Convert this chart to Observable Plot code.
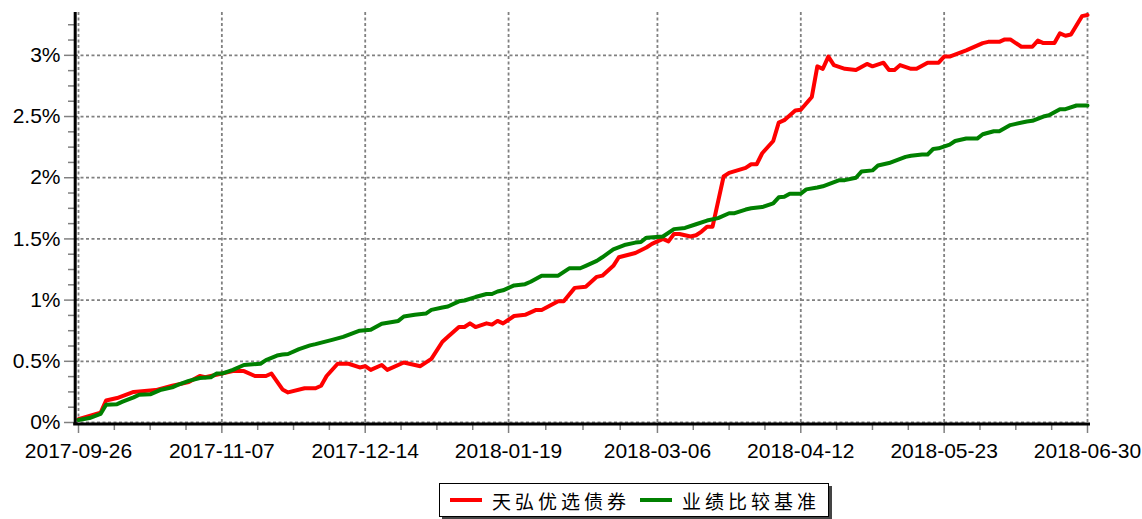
<!DOCTYPE html>
<html><head><meta charset="utf-8">
<script src="https://cdn.jsdelivr.net/npm/d3@7"></script>
<script src="https://cdn.jsdelivr.net/npm/@observablehq/plot@0.6"></script>
<style>
body{margin:0;background:#fff;font-family:"Liberation Sans",Arial,sans-serif;}
#wrap{position:relative;width:1142px;height:519px;overflow:hidden;}
#legend{position:absolute;left:439px;top:483px;width:388px;height:32px;border:1.5px solid #000;box-shadow:3px 3px 0 #444;background:#fff;display:flex;align-items:center;font-family:"Noto Sans CJK SC",sans-serif;font-size:19px;letter-spacing:4px;color:#000;box-sizing:content-box;}
.sw{display:inline-block;width:32px;height:4px;margin:0 10px 0 10px;}
</style></head><body>
<div id="wrap"><div id="chart"></div><div id="legend"></div></div>
<script>
// x = trading-day number since 2017-09-26
const tickDays = [0, 26, 52, 78, 105, 131, 157, 183];
const tickLabels = ["2017-09-26","2017-11-07","2017-12-14","2018-01-19","2018-03-06","2018-04-12","2018-05-23","2018-06-30"];
const yTicks = [0, 0.5, 1, 1.5, 2, 2.5, 3];
const redName = "天弘优选债券";
const greenName = "业绩比较基准";

const redDay = [0,4,5,7,10,14,17,20,22,23,25,28,30,32,34,35,37,38,41,43,44,45,47,49,51,52,53,55,56,59,60,62,64,66,67,69,70,71,72,74,75,76,77,79,81,83,84,87,88,90,92,94,95,97,98,101,103,104,105,106,107,108,109,111,112,113,114,115,117,118,121,122,123,124,126,127,128,130,131,133,134,135,136,137,139,141,143,144,146,147,148,149,151,152,154,156,157,158,161,164,165,167,168,169,171,173,174,175,177,178,179,180,182,183];
const redPct = [0.028,0.08,0.18,0.20,0.25,0.265,0.30,0.33,0.38,0.37,0.39,0.42,0.42,0.38,0.38,0.40,0.27,0.246,0.28,0.28,0.30,0.38,0.48,0.48,0.45,0.46,0.43,0.47,0.43,0.49,0.48,0.46,0.52,0.66,0.70,0.78,0.78,0.81,0.78,0.81,0.80,0.83,0.81,0.87,0.88,0.92,0.92,0.99,0.99,1.10,1.11,1.19,1.20,1.28,1.35,1.385,1.43,1.46,1.48,1.50,1.48,1.54,1.54,1.52,1.53,1.56,1.60,1.60,2.01,2.04,2.08,2.11,2.11,2.20,2.30,2.45,2.47,2.55,2.555,2.66,2.91,2.89,2.99,2.92,2.89,2.88,2.93,2.91,2.94,2.88,2.88,2.92,2.89,2.89,2.94,2.94,2.99,2.99,3.04,3.10,3.11,3.11,3.13,3.13,3.07,3.07,3.12,3.10,3.10,3.18,3.16,3.17,3.32,3.33];

const greenDay = [0,2,4,5,7,8,10,11,13,15,17,18,20,22,24,25,26,28,30,33,34,36,37,38,40,42,43,46,48,51,53,55,58,59,61,63,64,66,67,69,70,72,74,75,76,77,79,81,82,84,87,89,91,92,94,95,97,99,101,102,103,106,108,110,112,114,116,118,119,121,122,124,126,127,128,129,131,132,134,135,138,139,141,142,144,145,147,150,151,153,154,155,156,158,159,161,163,164,166,167,169,170,172,173,175,176,178,179,181,183];
const greenPct = [0.02,0.036,0.07,0.145,0.15,0.17,0.205,0.227,0.23,0.268,0.287,0.307,0.34,0.364,0.37,0.40,0.40,0.43,0.47,0.48,0.51,0.547,0.555,0.56,0.60,0.63,0.64,0.675,0.70,0.75,0.757,0.807,0.83,0.866,0.88,0.89,0.92,0.94,0.948,0.99,0.997,1.025,1.05,1.05,1.07,1.08,1.12,1.13,1.15,1.20,1.20,1.26,1.26,1.28,1.32,1.35,1.415,1.45,1.47,1.475,1.51,1.52,1.58,1.59,1.62,1.65,1.67,1.71,1.71,1.74,1.75,1.76,1.79,1.84,1.845,1.87,1.87,1.905,1.92,1.93,1.98,1.98,2.00,2.05,2.06,2.10,2.12,2.17,2.18,2.19,2.19,2.235,2.24,2.27,2.30,2.32,2.32,2.355,2.38,2.38,2.43,2.44,2.46,2.465,2.50,2.51,2.56,2.56,2.59,2.59];

const redColor = "#ff0000", greenColor = "#008000";
const red = redDay.map((d, i) => ({day: d, pct: redPct[i]}));
const green = greenDay.map((d, i) => ({day: d, pct: greenPct[i]}));

const xDomain = [tickDays[0], tickDays[tickDays.length - 1]];
const yDomain = [0, 3.35];
const minorX = d3.range(tickDays.length - 1).flatMap(i => [1, 2, 3].map(k => tickDays[i] + (tickDays[i + 1] - tickDays[i]) * k / 4));
const minorY = d3.range(0, 3.3, 0.125).filter(v => Math.abs(v * 2 - Math.round(v * 2)) > 1e-6);

const gridStyle = {stroke: "#808080", strokeOpacity: 1, strokeWidth: 1.8, strokeDasharray: "3,2.5"};

const chart = Plot.plot({
  width: 1142, height: 470,
  marginLeft: 78, marginRight: 55, marginTop: 12, marginBottom: 48,
  style: {fontFamily: "'Liberation Sans', Arial, sans-serif", fontSize: "21px", color: "#000", background: "#fff", overflow: "visible"},
  x: {domain: xDomain, label: null},
  y: {domain: yDomain, label: null},
  marks: [
    Plot.gridX(tickDays, gridStyle),
    Plot.gridY(yTicks, {...gridStyle, insetLeft: -3}),
    Plot.axisY(minorY, {tickSize: 7, dx: -3, label: null, tickFormat: () => "", stroke: "#808080", strokeWidth: 1.5}),
    Plot.axisY(yTicks, {tickSize: 11, tickPadding: 4, dx: -3, label: null, tickFormat: d => d + "%", stroke: "#808080", strokeWidth: 1.5, fill: "#000", fontSize: 21}),
    Plot.axisX(minorX, {tickSize: 6, dy: 2, label: null, tickFormat: () => "", stroke: "#808080", strokeWidth: 1.5}),
    Plot.axisX(tickDays, {tickSize: 9, dy: 2, tickPadding: 10, label: null, tickFormat: d => tickLabels[tickDays.indexOf(d)], stroke: "#808080", strokeWidth: 1.5, fill: "#000", fontSize: 21}),
    Plot.line(red, {x: "day", y: "pct", stroke: redColor, strokeWidth: 4, strokeLinejoin: "round"}),
    Plot.line(green, {x: "day", y: "pct", stroke: greenColor, strokeWidth: 4, strokeLinejoin: "round"}),
    Plot.ruleX([xDomain[0]], {dx: -3.3, stroke: "#000", strokeWidth: 3, insetBottom: -2.5}),
    Plot.ruleY([yDomain[0]], {dy: 1.5, stroke: "#000", strokeWidth: 3, insetLeft: -4.8, insetRight: -3})
  ]
});
document.getElementById("chart").appendChild(chart);

const legend = document.getElementById("legend");
[[redName, redColor], [greenName, greenColor]].forEach(([name, color]) => {
  const sw = document.createElement("span");
  sw.className = "sw";
  sw.style.background = color;
  const t = document.createElement("span");
  t.textContent = name;
  legend.appendChild(sw);
  legend.appendChild(t);
});
</script>
</body></html>
